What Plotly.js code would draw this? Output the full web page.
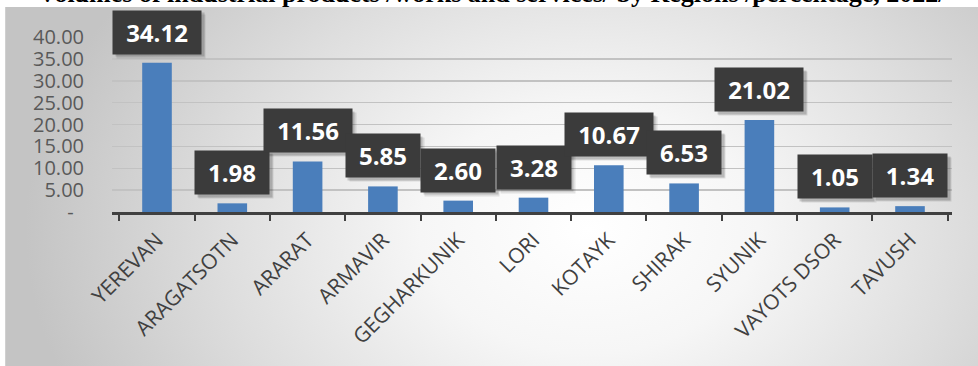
<!DOCTYPE html>
<html>
<head>
<meta charset="utf-8">
<script src="https://cdn.plot.ly/plotly-3.0.1.min.js"></script>
<style>
  html, body { margin: 0; padding: 0; background: #ffffff; }
  #wrap { position: relative; width: 978px; height: 366px; overflow: hidden; }
  /* chart panel with soft radial shading */
  #panel {
    position: absolute; left: 5px; top: 7px; width: 973px; height: 359px;
    box-sizing: border-box; border-left: 1px solid #d0d0d0;
    background: radial-gradient(ellipse 58% 115% at 60% 62%, #ffffff 0%, #f6f6f6 30%, #dedede 65%, #c4c4c4 100%);
  }
  #chart { position: absolute; left: 0; top: 0; width: 978px; height: 366px; }
</style>
</head>
<body>
<div id="wrap">
  <div id="panel"></div>
  <div id="chart"></div>
</div>
<script>
// Share of industrial output by region, 2022 (%)
const regions = ["YEREVAN", "ARAGATSOTN", "ARARAT", "ARMAVIR", "GEGHARKUNIK", "LORI",
                 "KOTAYK", "SHIRAK", "SYUNIK", "VAYOTS DSOR", "TAVUSH"];
const shares = [34.12, 1.98, 11.56, 5.85, 2.60, 3.28, 10.67, 6.53, 21.02, 1.05, 1.34];

const yTickVals = [0, 5, 10, 15, 20, 25, 30, 35, 40];
const yTickText = ["-\u00a0\u00a0", "5.00", "10.00", "15.00", "20.00", "25.00", "30.00", "35.00", "40.00"];

const chartTitle = "Volumes of industrial products /works and services/ by Regions /percentage, 2022/";

const labelFont = { family: "Open Sans, Noto Sans, sans-serif", size: 24, color: "#ffffff", weight: 700 };

// measure label text so each dark box hugs its number
const ctx = document.createElement("canvas").getContext("2d");
ctx.font = "bold 24px 'Open Sans'";
function boxWidth(txt) { return Math.round(ctx.measureText(txt).width + 24); }

// title sits at the very top edge of the page
const annotations = [{
  xref: "paper", yref: "paper", x: 0.452, y: 1, xanchor: "center", yanchor: "bottom",
  yshift: 27, showarrow: false,
  text: "<b>" + chartTitle + "</b>",
  font: { family: "Liberation Serif, Times New Roman, serif", size: 26, color: "#000000" }
}];

// soft drop shadows first, then the label boxes on top
regions.forEach((r, i) => {
  const txt = shares[i].toFixed(2);
  const w = boxWidth(txt);
  [[4, -4, 0.10], [2.5, -2.5, 0.16]].forEach(([dx, dy, a]) => {
    annotations.push({
      x: r, y: shares[i], xref: "x", yref: "y", showarrow: false,
      xanchor: "center", yanchor: "bottom", xshift: dx, yshift: 8 + dy,
      width: w, height: 41, text: " ", bgcolor: "rgba(0,0,0," + a + ")",
      font: labelFont
    });
  });
});
regions.forEach((r, i) => {
  const txt = shares[i].toFixed(2);
  annotations.push({
    x: r, y: shares[i], xref: "x", yref: "y", showarrow: false,
    xanchor: "center", yanchor: "bottom", yshift: 8,
    width: boxWidth(txt), height: 41, text: txt, bgcolor: "#3b3b3b",
    font: labelFont
  });
});

const trace = {
  type: "bar",
  x: regions,
  y: shares,
  marker: { color: "#4a7ebb" },
  hoverinfo: "x+y"
};

const layout = {
  width: 978,
  height: 366,
  margin: { l: 112, r: 26, t: 37, b: 154 },
  paper_bgcolor: "rgba(0,0,0,0)",
  plot_bgcolor: "rgba(0,0,0,0)",
  showlegend: false,
  bargap: 0.607,
  xaxis: {
    type: "category",
    showline: true, linecolor: "#404040", linewidth: 2.5,
    ticks: "outside", tickson: "boundaries", ticklen: 6, tickwidth: 2, tickcolor: "#404040",
    tickangle: -45, ticklabelstandoff: 5,
    tickfont: { family: "Open Sans, Noto Sans, sans-serif", size: 21, color: "#404040" },
    showgrid: false, zeroline: false
  },
  yaxis: {
    range: [0, 40],
    tickvals: yTickVals, ticktext: yTickText,
    showgrid: true, gridcolor: "#c2c2c2", gridwidth: 1.5,
    zeroline: false, showline: false, ticks: "",
    ticklabelstandoff: 27,
    tickfont: { family: "Open Sans, Noto Sans, sans-serif", size: 20, color: "#595959" }
  },
  annotations: annotations
};

Plotly.newPlot("chart", [trace], layout, { displayModeBar: false, staticPlot: true });
</script>
</body>
</html>
